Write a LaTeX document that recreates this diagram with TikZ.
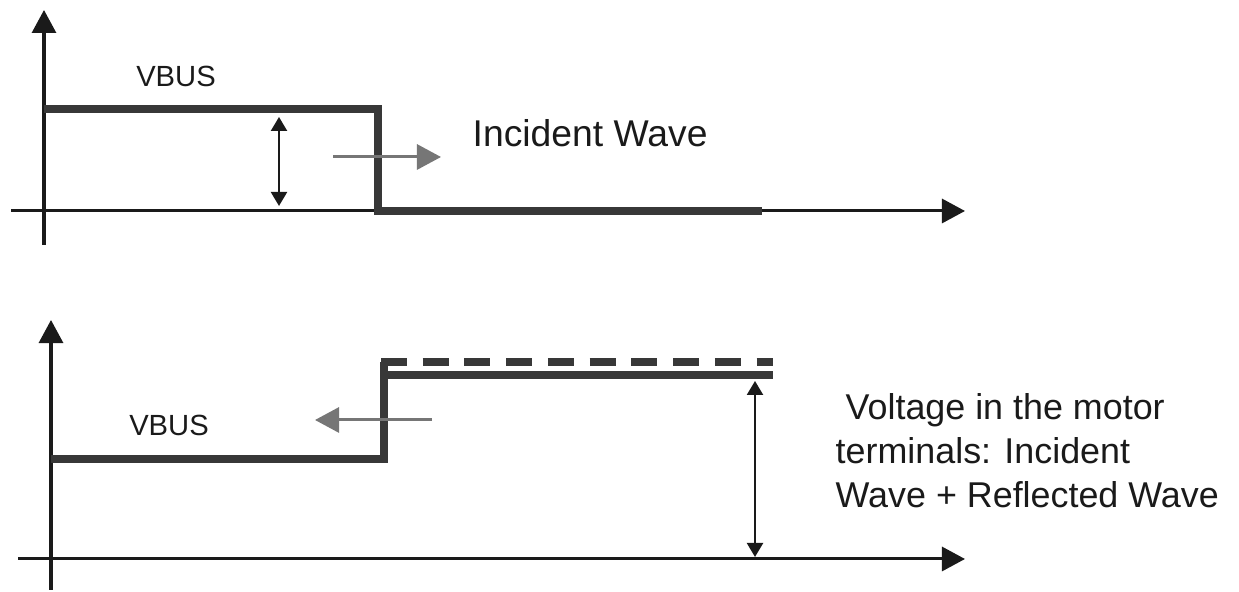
\documentclass[tikz,border=0pt]{standalone}
\usepackage{fontspec}
\setmainfont{Liberation Sans}
\usetikzlibrary{arrows.meta,positioning}
\definecolor{sigdark}{HTML}{383838}
\definecolor{wavegray}{HTML}{767676}
\definecolor{inkblack}{HTML}{1A1A1A}

\begin{document}
\begin{tikzpicture}[
  x=0.01cm, y=-0.01cm,
  axis/.style={line width=0.3mm, draw=inkblack, -{Triangle[length=2.3mm, width=2.4mm]}},
  signal/.style={line width=0.72mm, draw=sigdark},
  span/.style={line width=0.22mm, draw=inkblack, {Triangle[length=1.4mm, width=1.6mm]}-{Triangle[length=1.4mm, width=1.6mm]}},
  wave/.style={line width=0.3mm, draw=wavegray, -{Triangle[length=2.4mm, width=2.5mm]}},
  lbl/.style={inner sep=0, text=inkblack, font=\fontsize{8.3}{10}\selectfont},
  note/.style={inner sep=0, text=inkblack, align=left, font=\fontsize{10.2}{12.5}\selectfont},
]
  \useasboundingbox (0,0) rectangle (1239,592);

  % Top panel (incident wave)
  \coordinate (ty0) at (44,245);
  \coordinate (ty1) at (44,10);
  \coordinate (tx0) at (11,211);
  \coordinate (tx1) at (965,211);
  \draw[axis] (ty0) -- (ty1);
  \draw[axis] (tx0) -- (tx1);

  \coordinate (thi) at (44,109);
  \coordinate (tedge) at (378,109);
  \coordinate (tlow) at (378,211);
  \coordinate (tend) at (762,211);
  \draw[signal] (thi) -- (tedge) -- (tlow) -- (tend);

  \coordinate (ts0) at (279,206);
  \coordinate (ts1) at (279,117);
  \draw[span] (ts0) -- (ts1);

  \coordinate (tw0) at (333,157);
  \coordinate (tw1) at (441,157);
  \draw[wave] (tw0) -- (tw1);

  \node[lbl, anchor=base] (tvbus) at (176,87) {VBUS};
  \node[note, anchor=base west, font=\fontsize{10.6}{12.5}\selectfont] (tinc) at (472,147) {Incident Wave};

  % Bottom panel (incident + reflected)
  \coordinate (by0) at (51,590);
  \coordinate (by1) at (51,320);
  \coordinate (bx0) at (18,559);
  \coordinate (bx1) at (965,559);
  \draw[axis] (by0) -- (by1);
  \draw[axis] (bx0) -- (bx1);

  \coordinate (blo) at (51,459);
  \coordinate (bedge) at (384,459);
  \coordinate (btop) at (384,362);
  \coordinate (bsum0) at (384,375);
  \coordinate (bsum1) at (773,375);
  \coordinate (bdash0) at (381,362);
  \coordinate (bdash1) at (773,362);
  \draw[signal] (blo) -- (bedge) -- (btop);
  \draw[signal] (bsum0) -- (bsum1);
  \draw[signal, dash pattern=on 2.6mm off 1.57mm] (bdash0) -- (bdash1);

  \coordinate (bs0) at (755,557);
  \coordinate (bs1) at (755,381);
  \draw[span] (bs0) -- (bs1);

  \coordinate (bw0) at (432,420);
  \coordinate (bw1) at (315,420);
  \draw[wave] (bw0) -- (bw1);

  \node[lbl, anchor=base] (bvbus) at (169,436) {VBUS};
  \node[note, anchor=north west] (bnote) at (835,393)
    {~Voltage in the motor\\terminals: Incident\\Wave + Reflected Wave};
\end{tikzpicture}
\end{document}
